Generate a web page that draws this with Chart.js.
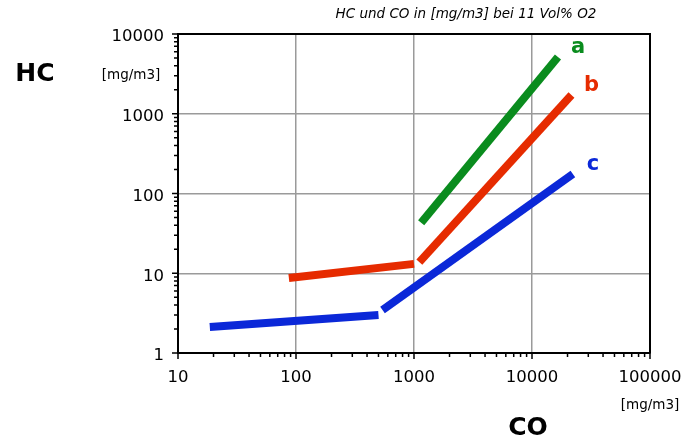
<!DOCTYPE html>
<html>
<head>
<meta charset="utf-8">
<script src="https://cdn.jsdelivr.net/npm/chart.js@4.4.1/dist/chart.umd.min.js"></script>
<style>body{margin:0;background:#fff}</style>
</head>
<body>
<canvas id="chart" width="682" height="443"></canvas>
<script>
// decade tick values
const xTicks = [10, 100, 1000, 10000, 100000];
const yTicks = [1, 10, 100, 1000, 10000];

// line a (green)
const aCO = [1150, 16600];
const aHC = [43, 5150];
// line b (red), two pieces
const b1CO = [87, 1000];
const b1HC = [8.7, 13.1];
const b2CO = [1110, 21600];
const b2HC = [13.8, 1720];
// line c (blue), two pieces
const c1CO = [18.6, 500];
const c1HC = [2.12, 3.0];
const c2CO = [541, 22200];
const c2HC = [3.46, 176];

const GREEN = "#0a8c1e", RED = "#e62b00", BLUE = "#0b28d8";
const FONT = "'DejaVu Sans', sans-serif";

function pts(xs, ys) {
  return xs.map((x, i) => ({ x: x, y: ys[i] }));
}
function line(label, xs, ys, color) {
  return {
    label: label,
    data: pts(xs, ys),
    showLine: true,
    borderColor: color,
    backgroundColor: color,
    borderWidth: 8,
    borderCapStyle: "butt",
    pointRadius: 0,
  };
}

// minor ticks, frame, labels and annotations
const extras = {
  id: "extras",
  afterDraw(chart) {
    const ctx = chart.ctx;
    const xs = chart.scales.x, ys = chart.scales.y;
    const a = chart.chartArea;
    ctx.save();
    ctx.strokeStyle = "#000";
    ctx.lineWidth = 1.5;
    ctx.beginPath();
    for (let d = 10; d < 100000; d *= 10) {
      for (let m = 1; m <= 10; m++) {
        const px = xs.getPixelForValue(d * m);
        const len = (m === 1 || m === 10) ? 6 : 4;
        ctx.moveTo(px, a.bottom);
        ctx.lineTo(px, a.bottom + len);
      }
    }
    for (let d = 1; d < 10000; d *= 10) {
      for (let m = 1; m <= 10; m++) {
        const py = ys.getPixelForValue(d * m);
        const len = (m === 1 || m === 10) ? 6 : 4;
        ctx.moveTo(a.left, py);
        ctx.lineTo(a.left - len, py);
      }
    }
    ctx.stroke();

    // top and right frame
    ctx.lineWidth = 2;
    ctx.beginPath();
    ctx.moveTo(a.left, a.top);
    ctx.lineTo(a.right, a.top);
    ctx.lineTo(a.right, a.bottom);
    ctx.stroke();

    ctx.fillStyle = "#000";
    ctx.textAlign = "center";
    ctx.textBaseline = "middle";
    ctx.font = "italic 13.5px " + FONT;
    ctx.fillText("HC und CO in [mg/m3] bei 11 Vol% O2", 466, 14);
    ctx.font = "bold 25px " + FONT;
    ctx.fillText("HC", 35, 74);
    ctx.fillText("CO", 528, 428);
    ctx.font = "13.5px " + FONT;
    ctx.fillText("[mg/m3]", 131, 75);
    ctx.fillText("[mg/m3]", 650, 405);

    // series letters next to the line ends
    ctx.font = "bold 21px " + FONT;
    const tags = [["a", aCO, aHC, GREEN], ["b", b2CO, b2HC, RED], ["c", c2CO, c2HC, BLUE]];
    tags.forEach(([t, xv, yv, col]) => {
      ctx.fillStyle = col;
      ctx.fillText(t, xs.getPixelForValue(xv[1]) + 20, ys.getPixelForValue(yv[1]) - 9);
    });
    ctx.restore();
  },
};

new Chart(document.getElementById("chart"), {
  type: "scatter",
  data: {
    datasets: [
      line("a", aCO, aHC, GREEN),
      line("b", b1CO, b1HC, RED),
      line("b", b2CO, b2HC, RED),
      line("c", c1CO, c1HC, BLUE),
      line("c", c2CO, c2HC, BLUE),
    ],
  },
  options: {
    responsive: false,
    animation: false,
    layout: { padding: { top: 34, right: 32, left: 0, bottom: 0 } },
    plugins: { legend: { display: false }, tooltip: { enabled: false } },
    scales: {
      x: {
        type: "logarithmic",
        min: 10,
        max: 100000,
        afterBuildTicks: (s) => { s.ticks = xTicks.map((v) => ({ value: v })); },
        afterFit: (s) => { s.height = 90; s.paddingLeft = 0; s.paddingRight = 0; },
        ticks: {
          color: "#000",
          font: { family: FONT, size: 16.5 },
          padding: 15,
          maxRotation: 0,
          autoSkip: false,
          callback: (v) => String(v),
        },
        grid: { color: "#9a9a9a", lineWidth: 1.5, drawTicks: false },
        border: { color: "#000", width: 2 },
      },
      y: {
        type: "logarithmic",
        min: 1,
        max: 10000,
        afterBuildTicks: (s) => { s.ticks = yTicks.map((v) => ({ value: v })); },
        afterFit: (s) => { s.width = 178; s.paddingTop = 0; s.paddingBottom = 0; },
        ticks: {
          color: "#000",
          font: { family: FONT, size: 16.5 },
          padding: 14,
          labelOffset: 3,
          autoSkip: false,
          callback: (v) => String(v),
        },
        grid: { color: "#9a9a9a", lineWidth: 1.5, drawTicks: false },
        border: { color: "#000", width: 2 },
      },
    },
  },
  plugins: [extras],
});
</script>
</body>
</html>
